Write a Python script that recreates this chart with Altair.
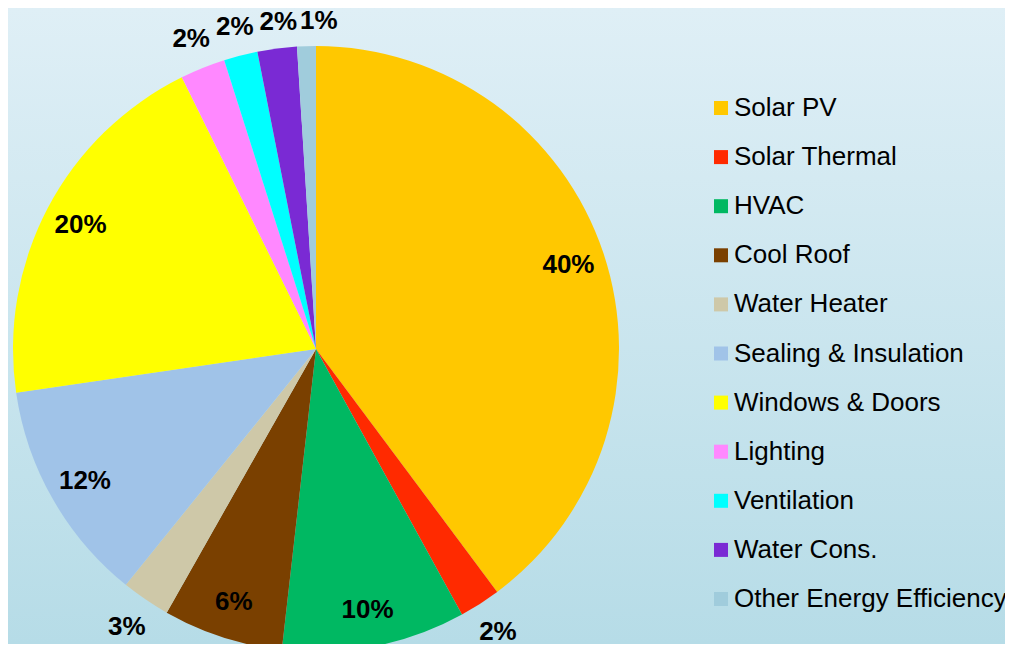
import altair as alt
import pandas as pd

categories = ["Solar PV", "Solar Thermal", "HVAC", "Cool Roof", "Water Heater",
              "Sealing & Insulation", "Windows & Doors", "Lighting", "Ventilation",
              "Water Cons.", "Other Energy Efficiency"]
shares = [39.8, 2.2, 9.8, 6.4, 2.6, 11.9, 20.0, 2.4, 1.8, 2.1, 1.0]
labels = ["40%", "2%", "10%", "6%", "3%", "12%", "20%", "2%", "2%", "2%", "1%"]
colors = ["#FFC800", "#FF2A00", "#00B862", "#7A4000", "#CEC8A8", "#A0C3E8",
          "#FFFF00", "#FF88FF", "#00FFFF", "#7A2AD4", "#A0CCDC"]

df = pd.DataFrame({
    "category": categories,
    "share": shares,
    "label": labels,
    "order": list(range(len(categories))),
})

W, H = 997, 636
CX, CY = 308, 341
R = 303

bg = alt.Chart(pd.DataFrame({"k": [0]})).mark_rect(
    color=alt.LinearGradient(
        gradient="linear", x1=0, y1=0, x2=0, y2=1,
        stops=[alt.GradientStop(color="#dfeff6", offset=0),
               alt.GradientStop(color="#b6dce7", offset=1)]
    )
).encode(x=alt.value(0), x2=alt.value(W), y=alt.value(0), y2=alt.value(H))

pie = alt.Chart(df).mark_arc(outerRadius=R).encode(
    theta=alt.Theta("share:Q", stack=True),
    order=alt.Order("order:Q"),
    color=alt.Color("category:N", sort=categories,
                    scale=alt.Scale(domain=categories, range=colors),
                    legend=alt.Legend(
                        title=None, orient="none", legendX=700, legendY=87,
                        symbolType="square", symbolSize=196, symbolStrokeWidth=0,
                        labelFont="Liberation Sans", labelFontSize=26,
                        labelColor="black", labelLimit=400, labelOffset=0,
                        rowPadding=23.1, padding=0)),
    x=alt.value(CX), y=alt.value(CY),
)

text = alt.Chart(df).transform_joinaggregate(
    total="sum(share)"
).transform_window(
    cum="sum(share)", sort=[alt.SortField("order")],
    frame=[None, 0]
).transform_calculate(
    mid="(datum.cum - datum.share / 2) / datum.total * 2 * PI",
    outside="datum.share < 4.5 ? 1 : 0"
).transform_calculate(
    r=f"datum.outside ? {R} + 14 + 10 * abs(cos(datum.mid)) + 20 * abs(sin(datum.mid)) : 266"
).transform_window(
    prev_mid="lag(mid)", prev_out="lag(outside)",
    sort=[alt.SortField("order")]
).transform_calculate(
    ang="(datum.outside && datum.prev_out && datum.prev_mid != null) ? "
        "datum.mid + max(0, 45 - (datum.mid - datum.prev_mid) * datum.r) / datum.r : datum.mid"
).mark_text(
    font="Liberation Sans", fontSize=26, fontWeight="bold", color="black",
    align="center", baseline="middle"
).encode(
    text="label:N",
    theta=alt.Theta("ang:Q", scale=None, stack=False),
    radius=alt.Radius("r:Q", scale=None),
    x=alt.value(CX), y=alt.value(CY),
)

chart = alt.layer(bg, pie, text).properties(
    width=W, height=H, padding=0,
    autosize=alt.AutoSizeParams(type="none"),
    background="#d6ebf2",
).configure_view(stroke=None)

chart.save("out.html", embed_options={"renderer": "svg", "actions": False})
